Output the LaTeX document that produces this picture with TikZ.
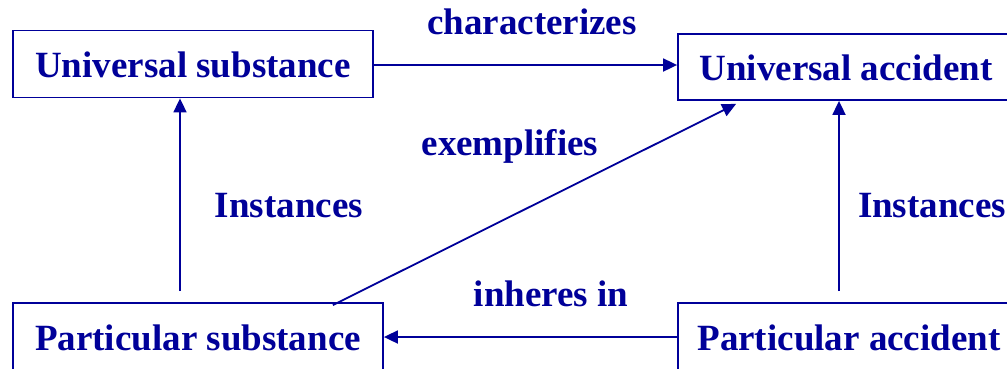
\documentclass[tikz,border=0pt]{standalone}
\usepackage{fontspec}
\setmainfont{Liberation Serif}
\usepackage{tikz}
\usetikzlibrary{calc,arrows.meta}

\definecolor{navy}{RGB}{0,0,153}

\begin{document}
\begin{tikzpicture}[x=1pt,y=-1pt,
    every node/.style={text=navy,font=\fontsize{37}{40}\selectfont\bfseries},
    box/.style={draw=navy,line width=1.8pt,inner sep=0pt,text height=30pt,text depth=4pt},
    arr/.style={draw=navy,line width=1.8pt,-{Triangle[length=14pt,width=13pt]}}]
  \useasboundingbox (0,0) rectangle (1007,368);
  \clip (0,0) rectangle (1007,368);

  %% Building the four boxes
  \node[box,minimum width=360pt,minimum height=67pt] (USUB) at (193,64)  {Universal substance};
  \node[box,minimum width=336pt,minimum height=66pt] (UACC) at (846,67)  {Universal accident};
  \node[box,minimum width=370pt,minimum height=68pt] (PSUB) at (198,337) {Particular substance};
  \node[box,minimum width=342pt,minimum height=68pt] (PACC) at (849,337) {Particular accident};

  %% Label connectors:
  \node[anchor=base] (CHAR) at (532,34)  {characterizes};
  \node[anchor=base] (EXEM) at (510,155) {exemplifies};
  \node[anchor=base] (INSL) at (289,217) {Instances};
  \node[anchor=base] (INSR) at (932,217) {Instances};
  \node[anchor=base] (INHE) at (551,306) {inheres in};

  %% Drawing the connectors
  \coordinate (XL) at (180,0);
  \coordinate (XR) at (839,0);
  \path[arr] ([yshift=-1pt]USUB.east) -- ([yshift=-1pt]USUB.east -| UACC.west);
  \path[arr] (PACC.west) -- (PACC.west -| PSUB.east);
  \path[arr,shorten <=11pt] (PSUB.north -| XL) -- (USUB.south -| XL);
  \path[arr,shorten <=11pt] (PACC.north -| XR) -- (UACC.south -| XR);
  \path[arr] ([xshift=-51pt,yshift=-3pt]PSUB.north east) -- ([xshift=59pt,yshift=-3pt]UACC.south west);
\end{tikzpicture}
\end{document}
